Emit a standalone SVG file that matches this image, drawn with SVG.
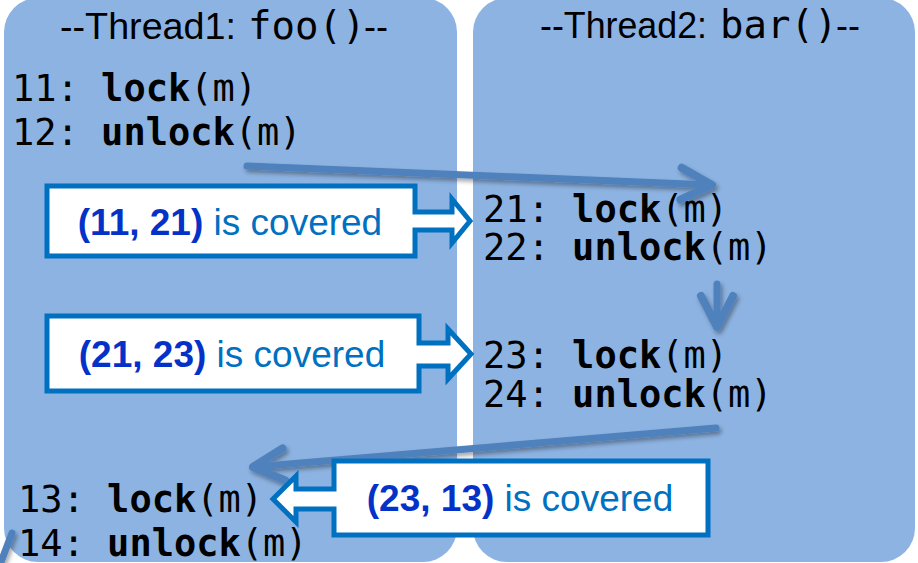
<svg xmlns="http://www.w3.org/2000/svg" width="918" height="563" viewBox="0 0 918 563">
<style>
.panel{fill:#8DB3E2;}
.title{font-family:"Liberation Sans",Arial,sans-serif;font-size:36px;fill:#000;}
.tmono{font-family:"DejaVu Sans Mono",monospace;font-size:39px;fill:#000;}
.code{font-family:"DejaVu Sans Mono",monospace;font-size:37px;fill:#000;}
.kw{font-weight:bold;}
.callout{fill:#fff;stroke:#0070C0;stroke-width:5;stroke-linejoin:miter;}
.ct{font-family:"Liberation Sans",Arial,sans-serif;font-size:37px;fill:#0070C0;text-anchor:middle;}
.cb{font-weight:bold;fill:#0432C8;}
.conn{fill:none;stroke:#4F81BD;stroke-width:7;stroke-linecap:round;}
</style>
<defs>
<marker id="chev" markerUnits="userSpaceOnUse" orient="auto" markerWidth="50" markerHeight="50" refX="0" refY="0" viewBox="-40 -25 50 50" overflow="visible">
<path d="M-31,-16 L0,0 L-31,16" fill="none" stroke="#4F81BD" stroke-width="8" stroke-linecap="round" stroke-linejoin="round"/>
</marker>
<filter id="sh" x="-10%" y="-50%" width="120%" height="200%">
<feDropShadow dx="2" dy="3" stdDeviation="2" flood-color="#000" flood-opacity="0.35"/>
</filter>
</defs>
<rect width="918" height="563" fill="#fff"/>
<g id="thread1">
<rect class="panel" x="4" y="-2" width="453" height="564" rx="34"/>
<text class="title" x="60" y="39" textLength="176" lengthAdjust="spacingAndGlyphs">--Thread1:</text>
<text class="tmono" x="248" y="39">foo()</text>
<text class="title" x="364" y="39">--</text>
</g>
<g id="thread2">
<rect class="panel" x="473" y="-2" width="442" height="564" rx="34"/>
<text class="title" x="540" y="38" textLength="167" lengthAdjust="spacingAndGlyphs">--Thread2:</text>
<text class="tmono" x="720" y="38">bar()</text>
<text class="title" x="836" y="38">--</text>
</g>
<g id="line11-12">
<text class="code" x="12" y="101">11: <tspan class="kw">lock</tspan>(m)</text>
<text class="code" x="12" y="145">12: <tspan class="kw">unlock</tspan>(m)</text>
</g>
<g id="line21-22">
<text class="code" x="483" y="222">21: <tspan class="kw">lock</tspan>(m)</text>
<text class="code" x="483" y="260">22: <tspan class="kw">unlock</tspan>(m)</text>
</g>
<g id="line23-24">
<text class="code" x="483" y="368">23: <tspan class="kw">lock</tspan>(m)</text>
<text class="code" x="483" y="407">24: <tspan class="kw">unlock</tspan>(m)</text>
</g>
<g id="line13-14">
<text class="code" x="18" y="512">13: <tspan class="kw">lock</tspan>(m)</text>
<text class="code" x="18" y="556">14: <tspan class="kw">unlock</tspan>(m)</text>
</g>
<g id="connectors" filter="url(#sh)">
<path class="conn" d="M247,166 L712,185" marker-end="url(#chev)"/>
<path class="conn" d="M717,284 L717,327" marker-end="url(#chev)"/>
<path class="conn" d="M716,428 L253,467" marker-end="url(#chev)"/>
<path class="conn" d="M12,533 L1,562"/>
</g>
<g id="cov-11-21">
<path class="callout" d="M47,186 H415 V212 H452 V199 L470,221 L452,243 V230 H415 V256 H47 Z"/>
<text class="ct" x="230" y="235"><tspan class="cb">(11, 21)</tspan> is covered</text>
</g>
<g id="cov-21-23">
<path class="callout" d="M47,316 H419 V343 H448 V329 L471,354 L448,379 V366 H419 V391 H47 Z"/>
<text class="ct" x="232" y="367"><tspan class="cb">(21, 23)</tspan> is covered</text>
</g>
<g id="cov-23-13">
<path class="callout" d="M708,461 V535 H334 V509 H296 V522 L273,499 L296,476 V489 H334 V461 Z"/>
<text class="ct" x="520" y="511"><tspan class="cb">(23, 13)</tspan> is covered</text>
</g>
</svg>
